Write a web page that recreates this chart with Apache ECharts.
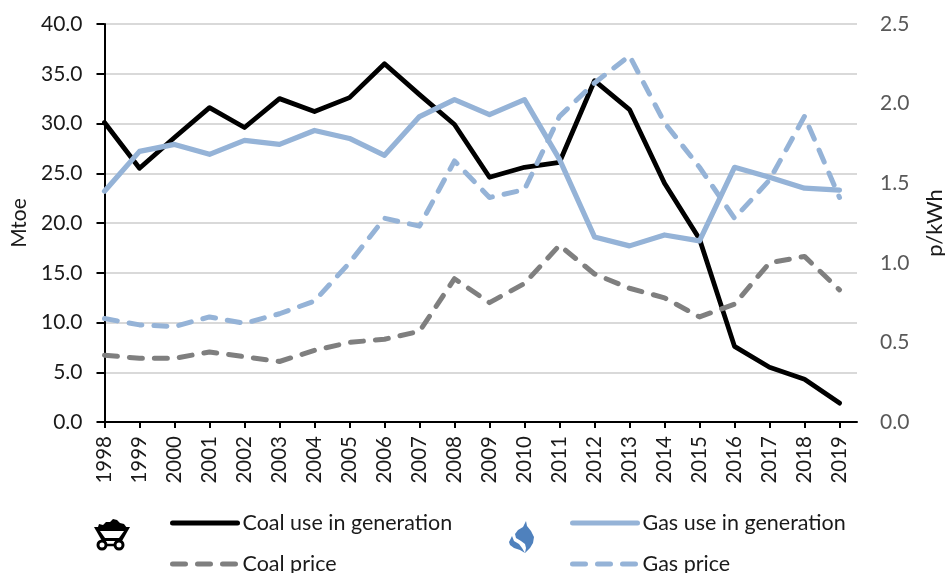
<!DOCTYPE html>
<html><head><meta charset="utf-8">
<style>html,body{margin:0;padding:0;background:#fff}#c{width:945px;height:573px}</style>
<script src="https://cdn.jsdelivr.net/npm/echarts@6/dist/echarts.min.js"></script>
</head><body><div id="c"></div>
<script>
const years = [1998,1999,2000,2001,2002,2003,2004,2005,2006,2007,2008,2009,2010,2011,2012,2013,2014,2015,2016,2017,2018,2019];
const coalUse = [30.1,25.5,28.6,31.6,29.6,32.5,31.2,32.6,36.0,32.9,29.9,24.6,25.6,26.1,34.3,31.4,24.0,18.4,7.6,5.5,4.3,1.9];
const gasUse = [23.2,27.2,27.9,26.9,28.3,27.9,29.3,28.5,26.8,30.7,32.4,30.9,32.4,26.4,18.6,17.7,18.8,18.2,25.6,24.6,23.5,23.3];
const coalPrice = [0.42,0.40,0.40,0.44,0.41,0.38,0.45,0.50,0.52,0.57,0.90,0.75,0.87,1.11,0.93,0.84,0.78,0.66,0.74,1.00,1.04,0.83];
const gasPrice = [0.65,0.61,0.60,0.66,0.62,0.68,0.76,1.00,1.28,1.23,1.64,1.41,1.46,1.92,2.13,2.30,1.88,1.60,1.28,1.52,1.92,1.41];
const FONT = 'Lato';
const DASH = [13,12];
const pair = a => a.map((v,i)=>[years[i],v]);
const line = (name,data,color,width,dashed,yIdx)=>({
  name,type:'line',yAxisIndex:yIdx,data:pair(data),symbol:'none',smooth:false,
  lineStyle:{color,width,type:dashed?DASH:'solid',cap:'round',join:'round'},
  itemStyle:{color}
});
const leg = (name,left,top,dashed)=>({
  data:[name],left,top,itemWidth:65,itemHeight:14,padding:0,
  itemStyle:{opacity:0},
  lineStyle:{width:5,type:dashed?DASH:'solid',cap:'round'},
  textStyle:{fontFamily:FONT,fontSize:21.5,color:'#1a1a1a'}
});
const chart = echarts.init(document.getElementById('c'),null,{renderer:'canvas'});
chart.setOption({
  animation:false,
  textStyle:{fontFamily:FONT},
  grid:{left:104.5,right:88,top:24,bottom:151,containLabel:false,outerBoundsMode:'none'},
  legend:[leg('Coal use in generation',170,512,false),leg('Gas use in generation',570,512,false),leg('Coal price',170,553,true),leg('Gas price',570,553,true)],
  xAxis:{type:'value',min:1998,max:2019.5,
    splitLine:{show:false},
    axisLine:{onZero:false,lineStyle:{color:'#000',width:2}},
    axisTick:{customValues:years,length:6,lineStyle:{color:'#000',width:2}},
    axisLabel:{customValues:years,rotate:90,fontFamily:FONT,fontSize:20.5,color:'#1a1a1a',margin:14,formatter:v=>String(v),hideOverlap:false}
  },
  yAxis:[
    {type:'value',min:0,max:40,interval:5,name:'Mtoe',nameLocation:'middle',nameGap:74,nameRotate:90,
      nameTextStyle:{fontFamily:FONT,fontSize:21,color:'#1a1a1a'},
      axisLine:{show:true,onZero:false,lineStyle:{color:'#000',width:2}},
      axisTick:{show:true,length:8,lineStyle:{color:'#000',width:2}},
      axisLabel:{fontFamily:FONT,fontSize:21,color:'#1a1a1a',margin:22,formatter:v=>v.toFixed(1)},
      splitLine:{show:true,lineStyle:{color:'#d9d9d9',width:2}}},
    {type:'value',min:0,max:2.5,interval:0.5,name:'p/kWh',nameLocation:'middle',nameGap:67,nameRotate:90,
      nameTextStyle:{fontFamily:FONT,fontSize:22,color:'#1a1a1a'},
      axisLine:{show:false},axisTick:{show:false},
      axisLabel:{fontFamily:FONT,fontSize:21,color:'#595959',margin:23,formatter:v=>v.toFixed(1)},
      splitLine:{show:false}}
  ],
  series:[
    line('Coal use in generation',coalUse,'#000000',4.8,false,0),
    line('Gas use in generation',gasUse,'#95b3d7',5.2,false,0),
    line('Coal price',coalPrice,'#7f7f7f',5,true,1),
    line('Gas price',gasPrice,'#95b3d7',5,true,1)
  ],
  graphic:[
    {type:'polygon',silent:true,shape:{points:[[94,527],[130,527],[122,541],[102,541]]},style:{fill:'#000'}},
    {type:'polygon',silent:true,shape:{points:[[100,531],[124,531],[119,538],[105,538]]},style:{fill:'#fff'}},
    {type:'polygon',silent:true,shape:{points:[[98,527],[99,524],[103,525],[106,522],[110,522],[113,519],[117,520],[120,523],[124,524],[127,528]]},style:{fill:'#000'}},
    {type:'circle',silent:true,shape:{cx:102,cy:545,r:4},style:{fill:'#fff',stroke:'#000',lineWidth:3}},
    {type:'circle',silent:true,shape:{cx:119,cy:545,r:4},style:{fill:'#fff',stroke:'#000',lineWidth:3}},
    {type:'line',silent:true,shape:{x1:106,y1:545,x2:115,y2:545},style:{stroke:'#000',lineWidth:2.5}},
    {type:'polygon',silent:true,shape:{points:[[526,521],[527,526],[531,531],[534,537],[533,543],[530,548],[525,553],[526,548],[525,544],[521,541],[516,538],[515,534],[518,530],[523,527]]},style:{fill:'#4f81bd'}},
    {type:'polygon',silent:true,shape:{points:[[512,536],[509,542],[510,545],[514,548],[520,550],[525,553],[522,548],[519,544],[514,541]]},style:{fill:'#4f81bd'}}
  ]
});
</script></body></html>
